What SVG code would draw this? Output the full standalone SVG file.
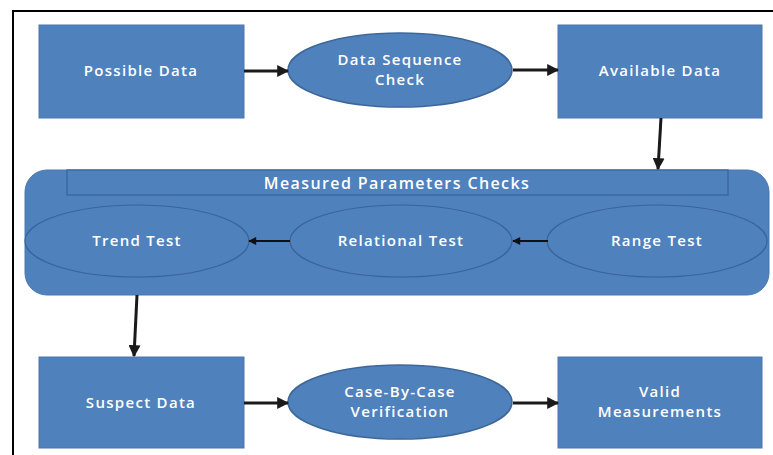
<svg xmlns="http://www.w3.org/2000/svg" width="773" height="455" viewBox="0 0 773 455">
<defs>
<style>
.box{fill:#4f81bd;stroke:#4a77ad;stroke-width:1}
.ell{fill:#4f81bd;stroke:#3d679a;stroke-width:1.5}
.inner{fill:#4f81bd;stroke:#38649a;stroke-width:1.2}
.t{fill:#ffffff;font-family:"Open Sans","Liberation Sans",sans-serif;font-size:15px;font-weight:600;text-anchor:middle;letter-spacing:1.3px}
.h{font-size:16px;letter-spacing:1.4px}
.c{stroke:#1a1a1a;stroke-width:3;fill:none;marker-end:url(#ah)}
.ci{stroke:#111;stroke-width:2;fill:none;marker-end:url(#ahs)}
</style>
<marker id="ah" viewBox="0 0 10 10" refX="9" refY="5" markerWidth="4" markerHeight="4" orient="auto" markerUnits="strokeWidth">
<path d="M0,0 L10,5 L0,10 z" fill="#1a1a1a"/>
</marker>
<marker id="ahs" viewBox="0 0 10 10" refX="9" refY="5" markerWidth="5" markerHeight="4" orient="auto" markerUnits="strokeWidth">
<path d="M0,0 L10,5 L0,10 z" fill="#111"/>
</marker>
</defs>
<rect width="773" height="455" fill="#ffffff"/>
<path d="M13,455 L13,11 L773,11" fill="none" stroke="#000" stroke-width="2"/>

<g id="possible-data">
<rect class="box" x="39" y="25" width="205" height="93"/>
<text class="t" x="141" y="76">Possible Data</text>
</g>
<g id="data-sequence-check">
<ellipse class="ell" cx="400" cy="70" rx="112" ry="37"/>
<text class="t" x="400" y="65">Data Sequence</text>
<text class="t" x="400" y="85">Check</text>
</g>
<g id="available-data">
<rect class="box" x="558" y="25" width="204" height="93"/>
<text class="t" x="660" y="76">Available Data</text>
</g>

<g id="measured-parameters-checks">
<rect class="box" x="25" y="170" width="744" height="125" rx="22" ry="22"/>
<rect class="inner" x="67" y="170" width="661" height="25"/>
<text class="t h" x="397" y="189">Measured Parameters Checks</text>
</g>
<g id="trend-test">
<ellipse class="inner" cx="137" cy="241" rx="112" ry="36"/>
<text class="t" x="137" y="246">Trend Test</text>
</g>
<g id="relational-test">
<ellipse class="inner" cx="401" cy="241" rx="111" ry="36"/>
<text class="t" x="401" y="246">Relational Test</text>
</g>
<g id="range-test">
<ellipse class="inner" cx="657" cy="241" rx="110" ry="36"/>
<text class="t" x="657" y="246">Range Test</text>
</g>

<g id="suspect-data">
<rect class="box" x="39" y="357" width="205" height="91"/>
<text class="t" x="141" y="408">Suspect Data</text>
</g>
<g id="case-by-case-verification">
<ellipse class="ell" cx="400" cy="402" rx="112" ry="37"/>
<text class="t" x="400" y="397">Case-By-Case</text>
<text class="t" x="400" y="417">Verification</text>
</g>
<g id="valid-measurements">
<rect class="box" x="558" y="357" width="204" height="91"/>
<text class="t" x="660" y="397">Valid</text>
<text class="t" x="660" y="417">Measurements</text>
</g>

<g id="connectors">
<line class="c" x1="244" y1="71" x2="288" y2="71"/>
<line class="c" x1="513" y1="70" x2="558" y2="70"/>
<line class="c" x1="661" y1="118" x2="658" y2="169"/>
<line class="ci" x1="290" y1="241" x2="249" y2="241"/>
<line class="ci" x1="548" y1="241" x2="513" y2="241"/>
<line class="c" x1="137" y1="295" x2="134" y2="356"/>
<line class="c" x1="244" y1="403" x2="288" y2="403"/>
<line class="c" x1="513" y1="403" x2="558" y2="403"/>
</g>
</svg>
